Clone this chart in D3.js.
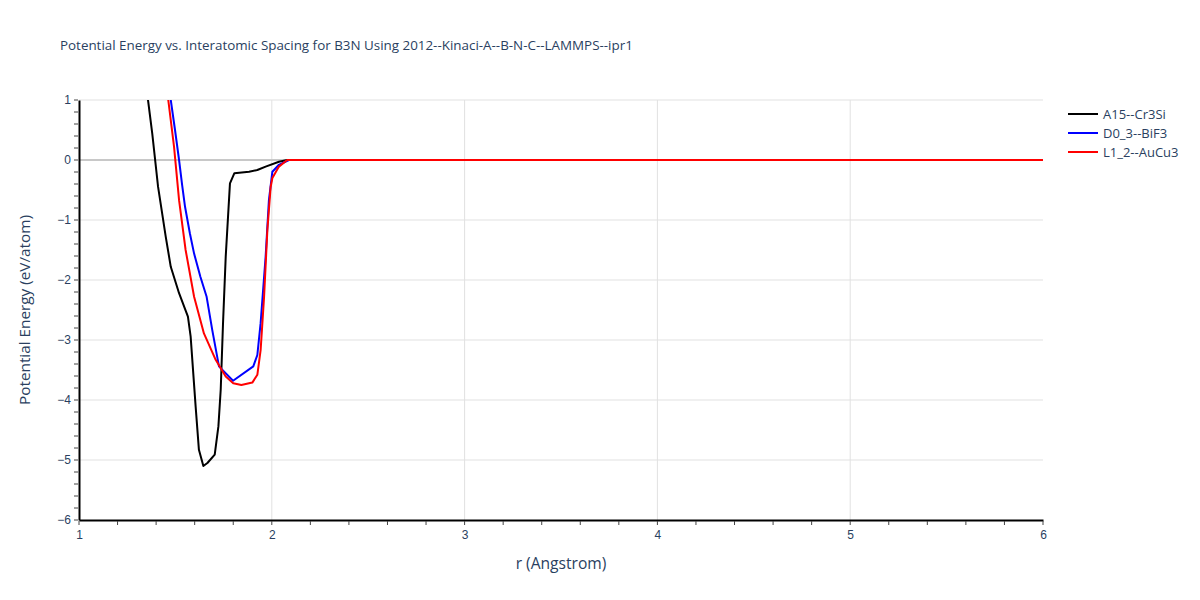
<!DOCTYPE html>
<html>
<head>
<meta charset="utf-8">
<script src="https://cdn.jsdelivr.net/npm/d3@7"></script>
<style>
  body { margin: 0; background: white; }
  svg { font-family: "Open Sans", verdana, arial, sans-serif; }
</style>
</head>
<body>
<svg id="chart" width="1200" height="600"></svg>
<script>
//Series names
var seriesNames = ["A15--Cr3Si", "D0_3--BiF3", "L1_2--AuCu3"];
var seriesColors = ["#000000", "#0000ff", "#ff0000"];

//A15--Cr3Si
var a15R = [1.35, 1.358, 1.38, 1.41, 1.45, 1.476, 1.519, 1.565, 1.579, 1.605, 1.622, 1.645, 1.666, 1.704, 1.723, 1.735, 1.747, 1.761, 1.783, 1.806, 1.882, 1.925, 1.968, 2.037, 2.08, 6];
var a15E = [1.25, 1.0, 0.44, -0.445, -1.28, -1.78, -2.22, -2.61, -2.94, -4.11, -4.83, -5.10, -5.05, -4.91, -4.44, -3.83, -2.72, -1.61, -0.39, -0.22, -0.195, -0.167, -0.11, -0.03, 0, 0];

//D0_3--BiF3
var d03R = [1.47, 1.476, 1.498, 1.519, 1.535, 1.55, 1.575, 1.597, 1.63, 1.662, 1.691, 1.726, 1.799, 1.904, 1.925, 1.942, 1.968, 1.985, 2.003, 2.037, 2.089, 6];
var d03E = [1.15, 1.0, 0.5, 0, -0.42, -0.78, -1.22, -1.56, -1.95, -2.28, -2.83, -3.44, -3.68, -3.44, -3.25, -2.72, -1.61, -0.67, -0.195, -0.08, 0, 0];

//L1_2--AuCu3
var l12R = [1.455, 1.463, 1.493, 1.519, 1.553, 1.597, 1.648, 1.709, 1.761, 1.800, 1.842, 1.899, 1.925, 1.942, 1.96, 1.977, 1.994, 2.003, 2.037, 2.08, 6];
var l12E = [1.15, 1.0, 0.22, -0.67, -1.5, -2.28, -2.89, -3.33, -3.61, -3.72, -3.75, -3.71, -3.58, -3.17, -2.28, -1.17, -0.45, -0.3, -0.11, 0, 0];

//Tick values
var xTicks = [1, 2, 3, 4, 5, 6];
var yTicks = [-6, -5, -4, -3, -2, -1, 0, 1];

var series = [
    { name: seriesNames[0], color: seriesColors[0], r: a15R, e: a15E },
    { name: seriesNames[1], color: seriesColors[1], r: d03R, e: d03E },
    { name: seriesNames[2], color: seriesColors[2], r: l12R, e: l12E }
];

//Dimensions
var dimensions = {
    width: 1200,
    height: 600,
    margin: { top: 100, bottom: 80, left: 79, right: 157 }
};

var svg = d3.select("#chart");
var textColor = "#2a3f5f";

//Scales
var xScale = d3.scaleLinear()
               .domain([1, 6])
               .range([dimensions.margin.left, dimensions.width - dimensions.margin.right]);
var yScale = d3.scaleLinear()
               .domain([-6, 1])
               .range([dimensions.height - dimensions.margin.bottom, dimensions.margin.top]);

//Grid
var grid = svg.append("g");
grid.selectAll("line.vg")
    .data(xTicks.slice(1, -1))
    .enter().append("line")
    .attr("x1", function(d){ return xScale(d); })
    .attr("x2", function(d){ return xScale(d); })
    .attr("y1", yScale(-6))
    .attr("y2", yScale(1))
    .style("stroke", "#e1e1e1")
    .style("stroke-width", 1);
grid.selectAll("line.hg")
    .data(yTicks.filter(function(d){ return d !== 0 && d !== -6; }))
    .enter().append("line")
    .attr("x1", xScale(1))
    .attr("x2", xScale(6))
    .attr("y1", function(d){ return yScale(d); })
    .attr("y2", function(d){ return yScale(d); })
    .style("stroke", "#e1e1e1")
    .style("stroke-width", 1);
//Zero line
grid.append("line")
    .attr("x1", xScale(1))
    .attr("x2", xScale(6))
    .attr("y1", yScale(0))
    .attr("y2", yScale(0))
    .style("stroke", "#c8c8c8")
    .style("stroke-width", 2);

//Clip
svg.append("clipPath")
   .attr("id", "plotclip")
   .append("rect")
   .attr("x", xScale(1))
   .attr("y", yScale(1))
   .attr("width", xScale(6) - xScale(1))
   .attr("height", yScale(-6) - yScale(1));

//Lines
var lineGen = d3.line()
                .x(function(d){ return xScale(d[0]); })
                .y(function(d){ return yScale(d[1]); });

svg.append("g")
   .attr("clip-path", "url(#plotclip)")
   .selectAll("path")
   .data(series)
   .enter()
   .append("path")
   .attr("d", function(s){ return lineGen(d3.zip(s.r, s.e)); })
   .style("fill", "none")
   .style("stroke", function(s){ return s.color; })
   .style("stroke-width", 2)
   .style("stroke-linejoin", "round");

//X-axis
var xAxisGen = d3.axisBottom(xScale).tickValues(xTicks).tickFormat(d3.format("d")).tickSize(0).tickPadding(10);
var xAxis = svg.append("g")
               .attr("transform", "translate(0," + yScale(-6) + ")")
               .call(xAxisGen);
xAxis.select(".domain").style("stroke", "#000").style("stroke-width", 2);
xAxis.selectAll("text").style("font-size", "12px").style("fill", textColor);
var xMinor = d3.range(1, 6.001, 0.2);
xAxis.selectAll("line.minor")
     .data(xMinor)
     .enter().append("line")
     .attr("x1", function(d){ return xScale(d); })
     .attr("x2", function(d){ return xScale(d); })
     .attr("y1", 1)
     .attr("y2", 5)
     .style("stroke", "#444")
     .style("stroke-width", 1);

//Y-axis
var yAxisGen = d3.axisLeft(yScale).tickValues(yTicks).tickFormat(function(d){ return d < 0 ? "\u2212" + Math.abs(d) : d; }).tickSize(0).tickPadding(8);
var yAxis = svg.append("g")
               .attr("transform", "translate(" + xScale(1) + ",0)")
               .call(yAxisGen);
yAxis.select(".domain").style("stroke", "#000").style("stroke-width", 2);
yAxis.selectAll("text").style("font-size", "12px").style("fill", textColor);
var yMinor = d3.range(-6, 1.001, 0.2);
yAxis.selectAll("line.minor")
     .data(yMinor)
     .enter().append("line")
     .attr("x1", -1)
     .attr("x2", -5)
     .attr("y1", function(d){ return yScale(d); })
     .attr("y2", function(d){ return yScale(d); })
     .style("stroke", "#444")
     .style("stroke-width", 1);

//Title
svg.append("text")
   .attr("x", 60)
   .attr("y", 50)
   .style("font-size", "13.4px")
   .style("fill", textColor)
   .text("Potential Energy vs. Interatomic Spacing for B3N Using 2012--Kinaci-A--B-N-C--LAMMPS--ipr1");

//X-axis title
svg.append("text")
   .attr("x", (xScale(1) + xScale(6)) / 2)
   .attr("y", 569)
   .attr("text-anchor", "middle")
   .style("font-size", "15.6px")
   .style("fill", textColor)
   .text("r (Angstrom)");

//Y-axis title
svg.append("text")
   .attr("transform", "rotate(-90)")
   .attr("x", -(yScale(1) + yScale(-6)) / 2)
   .attr("y", 30)
   .attr("text-anchor", "middle")
   .style("font-size", "15.3px")
   .style("fill", textColor)
   .text("Potential Energy (eV/atom)");

//Legend
var legend = svg.append("g")
                .selectAll("g")
                .data(series)
                .enter()
                .append("g")
                .attr("transform", function(d, i){ return "translate(1068," + (114 + i * 19) + ")"; });
legend.append("line")
      .attr("x1", 0)
      .attr("x2", 30)
      .style("stroke", function(d){ return d.color; })
      .style("stroke-width", 2);
legend.append("text")
      .attr("x", 35)
      .attr("y", 4.5)
      .style("font-size", "13px")
      .style("fill", textColor)
      .text(function(d){ return d.name; });
</script>
</body>
</html>
